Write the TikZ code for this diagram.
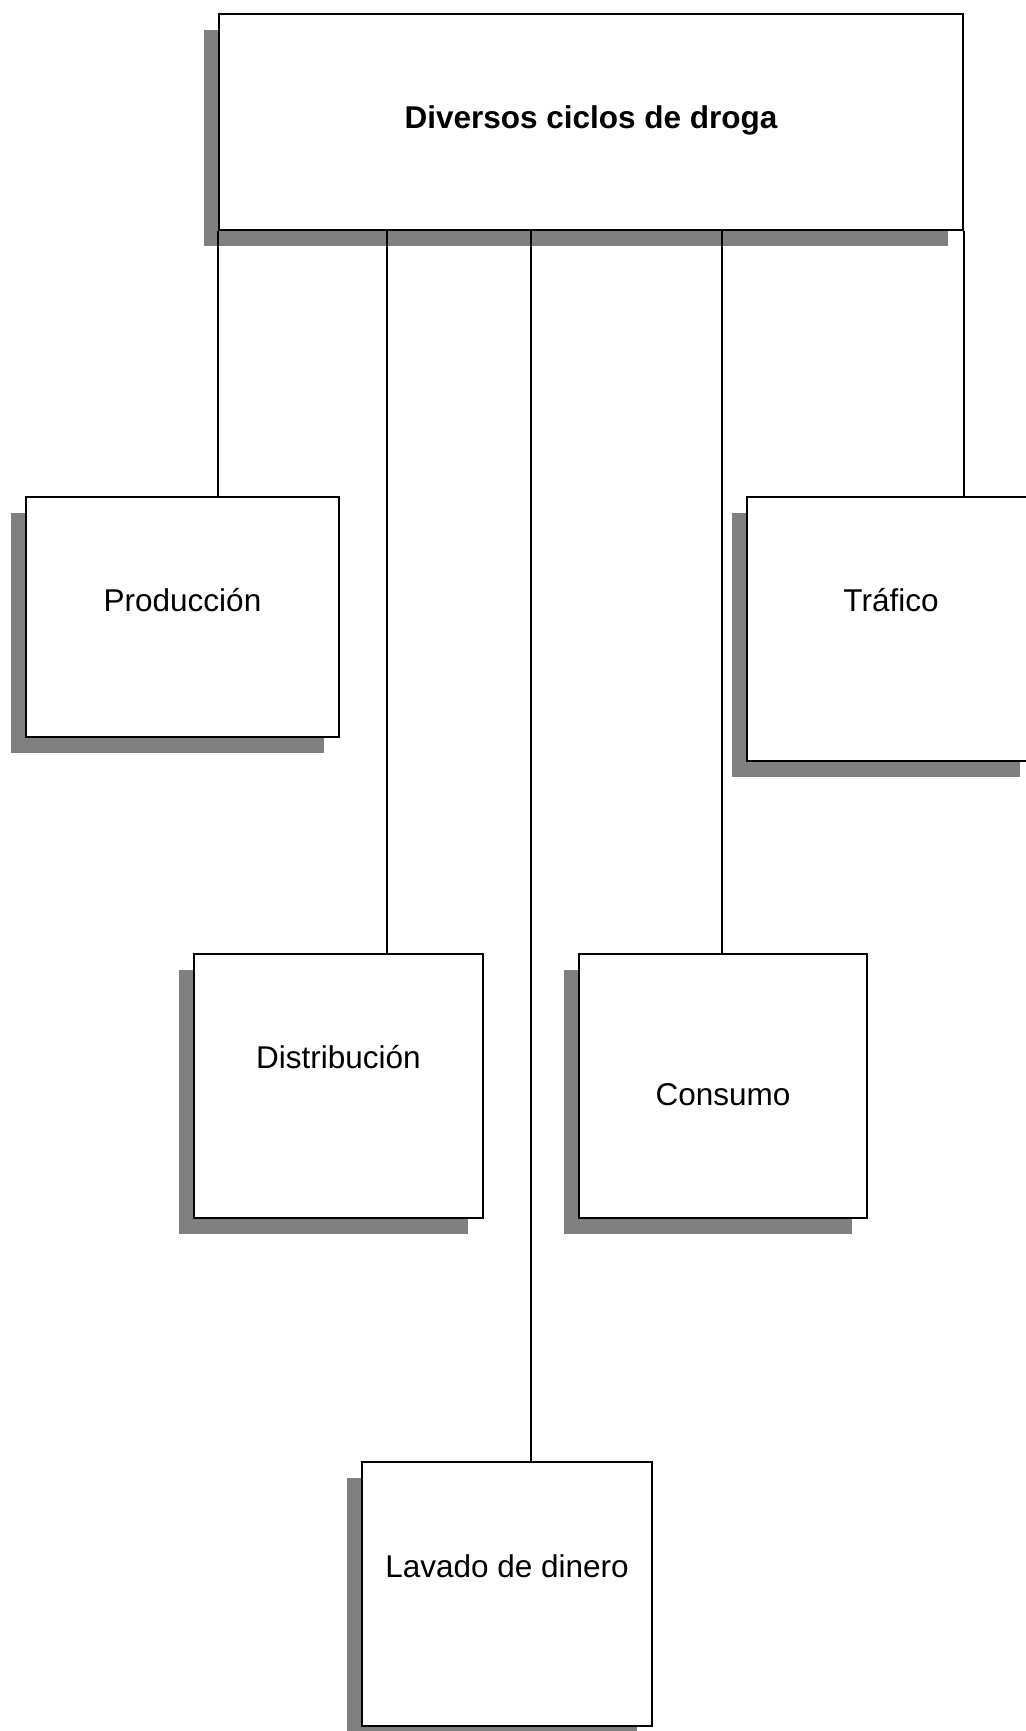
\documentclass[tikz,border=0pt]{standalone}
\usepackage{fontspec}
\setmainfont{Liberation Sans}
\usetikzlibrary{shadows}
\definecolor{shadowgray}{HTML}{808080}
\begin{document}
\begin{tikzpicture}[x=1pt,y=-1pt,
  box/.style={draw=black, line width=1.6pt, fill=white, rectangle, inner sep=0pt,
    general shadow={fill=shadowgray, draw=none, shadow xshift=-15pt, shadow yshift=-16pt}},
  lbl/.style={anchor=base, inner sep=0pt, font=\fontsize{31.5}{38}\selectfont},
  conn/.style={draw=black, line width=1.6pt}]
\fill[white] (0,0) rectangle (1025,1731);
\useasboundingbox (0,0) rectangle (1025,1731);

% boxes
\node[box, minimum width=744pt, minimum height=216pt] (top) at (591,122) {};
\node[box, minimum width=313pt, minimum height=240pt] (prod) at (182.5,617) {};
\node[box, minimum width=288pt, minimum height=264pt] (traf) at (891,629) {};
\node[box, minimum width=289pt, minimum height=264pt] (dist) at (338.5,1086) {};
\node[box, minimum width=288pt, minimum height=264pt] (cons) at (723,1086) {};
\node[box, minimum width=290pt, minimum height=264pt] (lav) at (507,1594) {};

% connector start points on the bottom edge of the top box
\coordinate (c1) at (top.south west);
\coordinate (c2) at (387,230);
\coordinate (c3) at (531,230);
\coordinate (c4) at (722,230);
\coordinate (c5) at (top.south east);

\draw[conn] (c1) -- (c1 |- prod.north);
\draw[conn] (c2) -- (c2 |- dist.north);
\draw[conn] (c3) -- (c3 |- lav.north);
\draw[conn] (c4) -- (c4 |- cons.north);
\draw[conn] (c5) -- (c5 |- traf.north);

% labels
\node[lbl, font=\fontsize{31.5}{38}\selectfont\bfseries] (tTop) at (591,129) {Diversos ciclos de droga};
\node[lbl] (tProd) at (182.5,611) {Producción};
\node[lbl] (tTraf) at (891,611) {Tráfico};
\node[lbl] (tDist) at (338.5,1068) {Distribución};
\node[lbl] (tCons) at (723,1105) {Consumo};
\node[lbl] (tLav) at (507,1577) {Lavado de dinero};
\end{tikzpicture}
\end{document}
